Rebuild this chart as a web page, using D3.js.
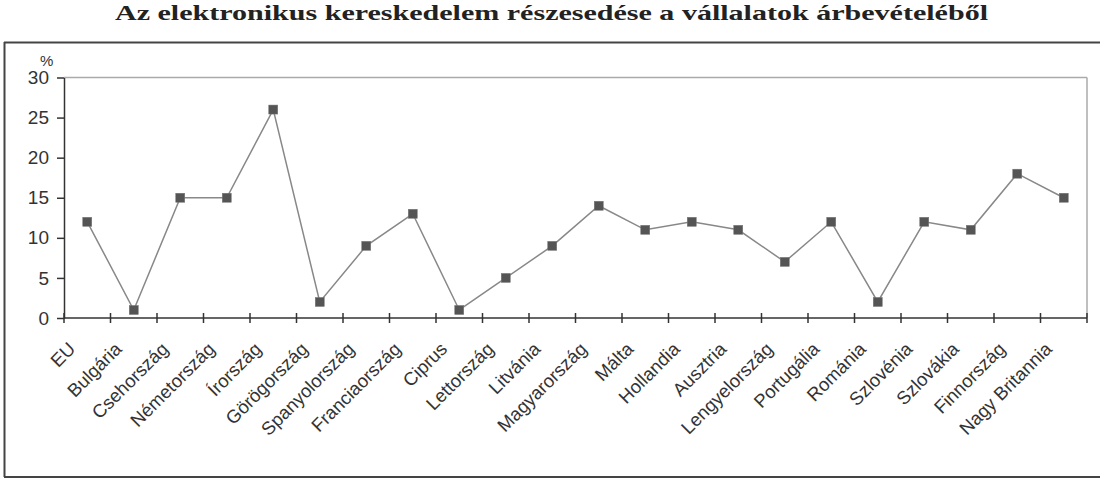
<!DOCTYPE html>
<html>
<head>
<meta charset="utf-8">
<script src="https://cdnjs.cloudflare.com/ajax/libs/d3/7.8.5/d3.min.js"></script>
<style>
  body { margin: 0; background: #fff; }
  text { font-family: "Liberation Sans", Arial, sans-serif; }
</style>
</head>
<body>
<script>
// Chart data
const countries = ["EU", "Bulgária", "Csehország", "Németország", "Írország", "Görögország",
  "Spanyolország", "Franciaország", "Ciprus", "Lettország", "Litvánia", "Magyarország",
  "Málta", "Hollandia", "Ausztria", "Lengyelország", "Portugália", "Románia",
  "Szlovénia", "Szlovákia", "Finnország", "Nagy Britannia"];
const shares = [12, 1, 15, 15, 26, 2, 9, 13, 1, 5, 9, 14, 11, 12, 11, 7, 12, 2, 12, 11, 18, 15];
const yTicks = [0, 5, 10, 15, 20, 25, 30];

// SVG size
const w = 1109;
const h = 479;

// Plot area
const plotLeft = 64;
const plotRight = 1087;
const plotTop = 77.5;
const plotBottom = 318;

const svg = d3.select("body")
  .append("svg")
  .attr("width", w)
  .attr("height", h);

// Title
svg.append("text")
  .attr("x", 115)
  .attr("y", 19.5)
  .attr("textLength", 873)
  .attr("lengthAdjust", "spacingAndGlyphs")
  .style("font-family", "'Liberation Serif', 'Times New Roman', serif")
  .style("font-weight", "bold")
  .style("font-size", "22px")
  .style("fill", "#222")
  .text("Az elektronikus kereskedelem részesedése a vállalatok árbevételéből");

// Outer frame (top, left, bottom)
const frame = svg.append("g")
  .attr("stroke", "#444")
  .attr("stroke-width", 2);
frame.append("line").attr("x1", 4).attr("x2", 1100).attr("y1", 42.5).attr("y2", 42.5);
frame.append("line").attr("x1", 4.5).attr("x2", 4.5).attr("y1", 42).attr("y2", 477);
frame.append("line").attr("x1", 4).attr("x2", 1100).attr("y1", 477).attr("y2", 477);

// Scales
const x = d3.scaleBand()
  .domain(countries)
  .range([plotLeft, plotRight]);

const y = d3.scaleLinear()
  .domain([0, 30])
  .range([plotBottom, plotTop]);

// Light border on top and right of the plot area
svg.append("line")
  .attr("x1", plotLeft).attr("x2", plotRight)
  .attr("y1", y(30)).attr("y2", y(30))
  .attr("stroke", "#aaa").attr("stroke-width", 1.5);
svg.append("line")
  .attr("x1", plotRight).attr("x2", plotRight)
  .attr("y1", y(30)).attr("y2", plotBottom)
  .attr("stroke", "#aaa").attr("stroke-width", 1.5);

// Y axis
const yAxis = svg.append("g")
  .attr("transform", "translate(" + plotLeft + ",0)")
  .call(d3.axisLeft(y).tickValues(yTicks).tickSize(7).tickSizeOuter(0).tickPadding(8));
yAxis.select(".domain").attr("stroke", "#333").attr("stroke-width", 1.5);
yAxis.selectAll(".tick line").attr("stroke", "#333").attr("stroke-width", 1.5);
yAxis.selectAll(".tick text")
  .style("font-family", "'Liberation Sans', Arial, sans-serif")
  .style("font-size", "19px")
  .style("fill", "#333");

// Unit label
svg.append("text")
  .attr("x", 40)
  .attr("y", 66)
  .style("font-size", "15px")
  .style("fill", "#333")
  .text("%");

// X axis line
svg.append("line")
  .attr("x1", plotLeft).attr("x2", plotRight)
  .attr("y1", plotBottom).attr("y2", plotBottom)
  .attr("stroke", "#333").attr("stroke-width", 1.5);

// X ticks at band boundaries (crossing the axis)
const boundaries = countries.map(d => x(d)).concat([plotRight]);
svg.append("g")
  .selectAll("line")
  .data(boundaries)
  .enter()
  .append("line")
  .attr("x1", d => d).attr("x2", d => d)
  .attr("y1", plotBottom - 5).attr("y2", plotBottom + 5)
  .attr("stroke", "#333").attr("stroke-width", 1.5);

// X labels, rotated
svg.append("g")
  .selectAll("text")
  .data(countries)
  .enter()
  .append("text")
  .attr("transform", d => "translate(" + (x(d) + x.bandwidth() / 2 - 20) + "," + 341 + ") rotate(-45)")
  .attr("text-anchor", "end")
  .attr("dy", "0.7em")
  .style("font-size", "18.5px")
  .style("fill", "#333")
  .text(d => d);

// Line
const line = d3.line()
  .x((d, i) => x(countries[i]) + x.bandwidth() / 2)
  .y(d => y(d));

svg.append("path")
  .datum(shares)
  .attr("d", line)
  .attr("fill", "none")
  .attr("stroke", "#888")
  .attr("stroke-width", 1.5);

// Square markers
svg.append("g")
  .selectAll("rect")
  .data(shares)
  .enter()
  .append("rect")
  .attr("x", (d, i) => x(countries[i]) + x.bandwidth() / 2 - 4.5)
  .attr("y", d => y(d) - 4.5)
  .attr("width", 9)
  .attr("height", 9)
  .attr("fill", "#555")
  .attr("stroke", "#777")
  .attr("stroke-width", 0.5);
</script>
</body>
</html>
